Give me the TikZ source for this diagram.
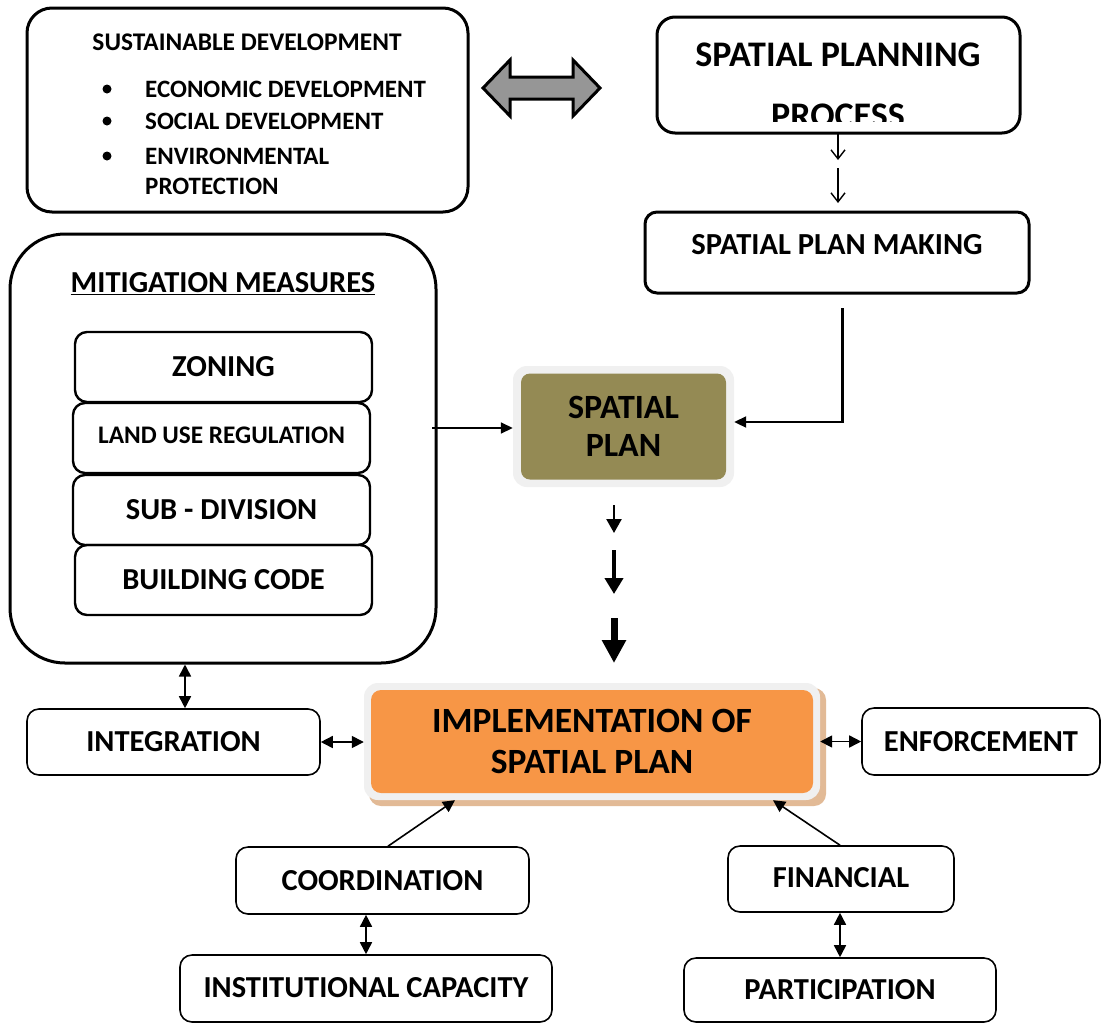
\documentclass[tikz,border=0pt]{standalone}
\usepackage{fontspec}
\setmainfont{Carlito}
\usetikzlibrary{arrows.meta}
\definecolor{olivebox}{RGB}{148,138,84}
\definecolor{orangebox}{RGB}{247,150,70}
\definecolor{framegray}{RGB}{240,240,240}
\definecolor{shadowtan}{RGB}{226,186,150}
\definecolor{arrowgray}{RGB}{150,150,150}
\begin{document}
\begin{tikzpicture}[x=1pt,y=-1pt,
  fs/.style={font=\bfseries\fontsize{#1}{#1}\selectfont},
  bigbox/.style={draw, line width=3pt, inner sep=0pt},
  subbox/.style={draw, line width=2.4pt, rounded corners=12pt, inner sep=0pt, fs=30.5},
  smallbox/.style={draw, line width=1.6pt, rounded corners=12pt, inner sep=0pt, fs=30.5},
  thin arrow/.style={line width=1.4pt, -{Straight Barb[length=9pt,width=14pt]}},
  link/.style={line width=1.6pt, {Triangle[length=12pt,width=12pt]}-{Triangle[length=12pt,width=12pt]}},
  toward/.style={line width=1.6pt, -{Triangle[length=12pt,width=12pt]}}
]
\useasboundingbox (0,0) rectangle (1102,1023);
\fill[white] (0,0) rectangle (1102,1023);

% --- sustainable development box
\node[bigbox, rounded corners=25pt, minimum width=441pt, minimum height=204pt] (sus) at (247.5,110) {};
\node[fs=25.4] (susT) at (247,42) {SUSTAINABLE DEVELOPMENT};
\fill (107,89) circle (4.5);
\fill (107,121) circle (4.5);
\fill (107,156) circle (4.5);
\node[fs=25, anchor=west, inner sep=0pt] (eco) at (145,89) {ECONOMIC DEVELOPMENT};
\node[fs=25, anchor=west, inner sep=0pt] (soc) at (145,121) {SOCIAL DEVELOPMENT};
\node[fs=25, anchor=west, inner sep=0pt] (env) at (145,156) {ENVIRONMENTAL};
\node[fs=25, anchor=west, inner sep=0pt] (pro) at (145,186) {PROTECTION};

% --- wide two-headed arrow
\draw[line width=3pt, fill=arrowgray, line join=miter]
  (483,88) -- (510,60) -- (510,77) -- (573,77) -- (573,60) -- (600,88)
  -- (573,116) -- (573,99) -- (510,99) -- (510,116) -- cycle;

% --- spatial planning process (second line runs past the text area and is cut)
\node[bigbox, rounded corners=18pt, minimum width=363pt, minimum height=116pt] (proc) at (838.5,75) {};
\node[fs=36] (procA) at (838,55) {SPATIAL PLANNING};
\begin{scope}
  \clip (657,17) rectangle (1020,121);
  \node[fs=36] (procB) at (838,115.5) {PROCESS};
\end{scope}

% --- spatial plan making
\node[bigbox, rounded corners=12pt, minimum width=384pt, minimum height=81pt] (make) at (837,252.5) {};
\node[fs=30.6] (makeT) at (837,245) {SPATIAL PLAN MAKING};
\coordinate (p1) at (838,133);
\coordinate (p2) at (838,160);
\coordinate (p3) at (838,168);
\coordinate (p4) at (838,203);
\draw[thin arrow] (p1) -- (p2);
\draw[thin arrow] (p3) -- (p4);

% --- spatial plan
\node[fill=framegray, rounded corners=14pt, minimum width=221pt, minimum height=121pt, inner sep=0pt] (spf) at (623.5,426.5) {};
\node[fill=olivebox, rounded corners=9pt, minimum width=205pt, minimum height=106pt, inner sep=0pt,
      fs=34, align=center] (sp) at (623.5,426.5) {SPATIAL\\[4pt]PLAN};

\coordinate (mk) at (842,308);
\draw[line width=3pt] (mk) -- (842,422);
\draw[line width=2pt, -{Triangle[length=12pt,width=11pt]}] (843.5,422) -- ([yshift=4.5pt]spf.east);

% --- mitigation measures
\node[bigbox, rounded corners=55pt, minimum width=426pt, minimum height=429pt] (mit) at (223,448.5) {};
\node[fs=30.5] (mitT) at (223,284) {\underline{MITIGATION MEASURES}};
\node[subbox, minimum width=297pt, minimum height=70pt] (zon) at (223.5,367) {\raisebox{2pt}{ZONING}};
\node[subbox, minimum width=297pt, minimum height=70pt, fs=25.3] (lur) at (221.5,438) {\raisebox{5pt}{LAND USE REGULATION}};
\node[subbox, minimum width=297pt, minimum height=70pt] (sub) at (221.5,510) {\raisebox{2pt}{SUB - DIVISION}};
\node[subbox, minimum width=297pt, minimum height=70pt] (bld) at (223.5,580) {\raisebox{2pt}{BUILDING CODE}};

\draw[line width=1.6pt, -{Triangle[length=12pt,width=11pt]}] (432,428) -- (spf.west |- 0,428);

% --- downward arrows
\coordinate (d1a) at (614,505);
\coordinate (d1b) at (614,533);
\coordinate (d2a) at (614,550);
\coordinate (d2b) at (614,594);
\coordinate (d3a) at (614,618);
\coordinate (d3b) at (614,663);
\draw[line width=2.5pt, -{Triangle[length=14pt,width=15pt]}] (d1a) -- (d1b);
\draw[line width=4pt, -{Triangle[length=16pt,width=18pt]}] (d2a) -- (d2b);
\draw[line width=7pt, -{Triangle[length=23pt,width=23pt]}] (d3a) -- (d3b);

% --- implementation
\fill[shadowtan, rounded corners=12pt] (369,688) rectangle (826,806);
\node[fill=framegray, rounded corners=14pt, minimum width=456pt, minimum height=117pt, inner sep=0pt] (impf) at (592,741.5) {};
\node[fill=orangebox, rounded corners=10pt, minimum width=442pt, minimum height=103pt, inner sep=0pt,
      fs=35.5, align=center] (imp) at (592,741.5) {IMPLEMENTATION OF\\[6pt]SPATIAL PLAN};

% --- surrounding factors
\node[smallbox, minimum width=293pt, minimum height=66pt] (int) at (173.5,742) {INTEGRATION};
\node[smallbox, minimum width=238pt, minimum height=67pt] (enf) at (981,741.5) {ENFORCEMENT};
\node[smallbox, minimum width=293pt, minimum height=67pt] (coo) at (382.5,880.5) {COORDINATION};
\node[smallbox, minimum width=372pt, minimum height=67pt] (ins) at (366,988.5) {\raisebox{3pt}{INSTITUTIONAL CAPACITY}};
\node[smallbox, minimum width=226pt, minimum height=66pt] (fin) at (841,879) {\raisebox{3pt}{FINANCIAL}};
\node[smallbox, minimum width=312pt, minimum height=64pt] (par) at (840,990) {PARTICIPATION};

\draw[link] (mit.south -| 185,0) -- (int.north -| 185,0);
\draw[link] (int.east) -- (impf.west |- int.east);
\draw[link] (impf.east |- enf.west) -- (enf.west);
\draw[toward] (coo.north -| 388,0) -- (impf.south -| 455,0);
\draw[toward] (fin.north -| 840,0) -- (impf.south -| 773,0);
\draw[link] (coo.south -| 366,0) -- (ins.north -| 366,0);
\draw[link] (fin.south -| 840,0) -- (par.north -| 840,0);
\end{tikzpicture}
\end{document}
